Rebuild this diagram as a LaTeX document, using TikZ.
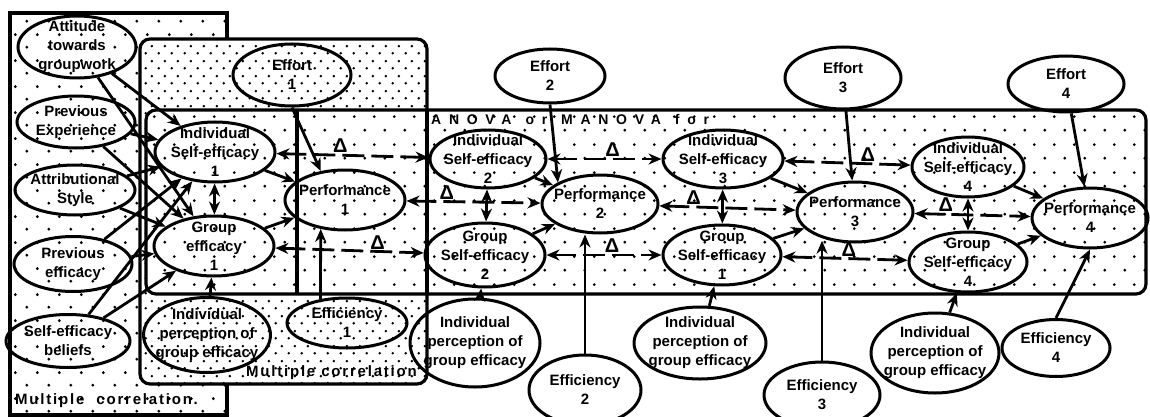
\documentclass[tikz,border=0pt]{standalone}
\usepackage{fontspec}
\setmainfont{Liberation Sans}
\usepackage{tikz}
\usetikzlibrary{arrows.meta,positioning,calc,shapes.geometric,patterns.meta}
\tikzdeclarepattern{name=adots,type=uncolored,
  bounding box={(0pt,0pt) and (22pt,26pt)},tile size={(22pt,26pt)},
  code={\fill (5pt,6pt) circle[radius=1.6pt];\fill (16pt,19pt) circle[radius=1.6pt];}}
\tikzdeclarepattern{name=bdots,type=uncolored,
  bounding box={(0pt,0pt) and (13pt,15pt)},tile size={(13pt,15pt)},
  code={\fill (3pt,4pt) circle[radius=1.5pt];\fill (9.5pt,11.5pt) circle[radius=1.5pt];}}
\tikzdeclarepattern{name=cdots,type=uncolored,
  bounding box={(0pt,0pt) and (20pt,28pt)},tile size={(20pt,28pt)},
  code={\fill (5pt,7pt) circle[radius=1.6pt];\fill (15pt,21pt) circle[radius=1.6pt];}}

\begin{document}
\begin{tikzpicture}[x=1pt,y=-1pt,
  ov/.style 2 args={ellipse,draw,line width=3pt,minimum width=#1pt,minimum height=#2pt,
              inner sep=-40pt,align=center,font=\fontsize{15}{19}\selectfont\bfseries},
  frame/.style={line width=3.2pt},
  boxa/.style={frame,preaction={fill=white},pattern=adots,pattern color=black},
  boxb/.style={frame,rounded corners=10pt,preaction={fill=white},pattern=bdots,pattern color=black},
  boxc/.style={frame,rounded corners=10pt,preaction={fill=white},pattern=cdots,pattern color=black},
  boxlbl/.style={font=\fontsize{15}{17}\selectfont\bfseries\addfontfeature{LetterSpace=12},inner sep=1pt},
  ar/.style={-{Stealth[length=13pt,width=11pt]},line width=2.8pt},
  dual/.style={{Stealth[length=13pt,width=11pt]}-{Stealth[length=13pt,width=11pt]},line width=2.8pt},
  dl/.style={dual,dash pattern=on 22pt off 7pt},
  dlt/.style={font=\fontsize{20}{20}\selectfont\bfseries,inner sep=1pt,above}]
\useasboundingbox (0,0) rectangle (1150,417);
% analysis frames
\draw[boxa] (10,13) rectangle (227,415);
\draw[boxb] (140,39) rectangle (427,384);
\draw[boxc] (146,110) rectangle (1146,294);
\draw[frame] (297,110) -- (297,294);
\draw[frame] (427,110) -- (427,294);
\node[boxlbl,anchor=west] (mca) at (14,401) {Multiple\ \ correlation.};
\node[boxlbl,anchor=east] (mcb) at (418,373) {Multiple correlation};
\node[boxlbl,anchor=west,font=\fontsize{14}{16}\selectfont\bfseries\addfontfeature{LetterSpace=55}] (anova) at (430,119) {ANOVA\quad or\quad MANOVA\quad for};
% antecedents
\node[ov={118}{62}] (att) at (77,47) {Attitude\\towards\\groupwork};
\node[ov={118}{52}] (prevexp) at (76,122) {Previous\\Experience};
\node[ov={120}{50}] (attr) at (75,190) {Attributional\\Style};
\node[ov={118}{55}] (prevef) at (73,264) {Previous\\efficacy};
\node[ov={124}{53}] (selfbel) at (68,341) {Self-efficacy\\beliefs};
% stage 1
\node[ov={118}{62}] (eff1) at (292,75) {Effort\\1};
\node[ov={120}{60}] (is1) at (215,152) {Individual\\Self-efficacy\\1};
\node[ov={120}{60}] (ge1) at (214,246) {Group\\efficacy\\1};
\node[ov={120}{60}] (perf1) at (345,200) {Performance\\1};
\node[ov={127}{75}] (ipge1) at (207,335) {Individual\\perception of\\group efficacy};
\node[ov={120}{50}] (effi1) at (347,323) {Efficiency\\1};
% stage 2
\node[ov={110}{54}] (eff2) at (550,76) {Effort\\2};
\node[ov={116}{58}] (is2) at (488,159) {Individual\\Self-efficacy\\2};
\node[ov={120}{64}] (ge2) at (485,255) {Group\\Self-efficacy\\2};
\node[ov={116}{58}] (perf2) at (600,204) {Performance\\2};
\node[ov={130}{88}] (ipge2) at (475,343) {Individual\\perception of\\group efficacy};
\node[ov={112}{70}] (effi2) at (585,390) {Efficiency\\2};
% stage 3
\node[ov={116}{62}] (eff3) at (843,78) {Effort\\3};
\node[ov={120}{58}] (is3) at (723,159) {Individual\\Self-efficacy\\3};
\node[ov={118}{60}] (ge3) at (722,255) {Group\\Self-efficacy\\1};
\node[ov={116}{60}] (perf3) at (855,212) {Performance\\3};
\node[ov={132}{72}] (ipge3) at (700,343) {Individual\\perception of\\group efficacy};
\node[ov={116}{66}] (effi3) at (822,395) {Efficiency\\3};
% stage 4
\node[ov={116}{56}] (eff4) at (1066,84) {Effort\\4};
\node[ov={112}{60}] (is4) at (968,167) {Individual\\Self-efficacy\\4};
\node[ov={118}{60}] (ge4) at (968,262) {Group\\Self-efficacy\\4};
\node[ov={116}{60}] (perf4) at (1090,218) {Performance\\4};
\node[ov={128}{80}] (ipge4) at (935,353) {Individual\\perception of\\group efficacy};
\node[ov={108}{57}] (effi4) at (1056,348) {Efficiency\\4};
% antecedents into stage 1
\draw[ar] (att) -- (is1);
\draw[ar] (att) -- (ge1);
\draw[ar] (prevexp) -- (is1);
\draw[ar] (prevexp) -- (ge1);
\draw[ar] (attr) -- (is1);
\draw[ar] (attr) -- (ge1);
\draw[ar] (prevef) -- (is1);
\draw[ar] (prevef) -- (ge1);
\draw[ar] (selfbel) -- (is1);
\draw[ar] (selfbel) -- (ge1);
% within stages
\draw[dual] (is1) -- (ge1);
\draw[ar] (is1) -- (perf1);
\draw[ar] (ge1) -- (perf1);
\draw[ar] (eff1.south) -- (perf1.130);
\draw[ar] (effi1.138) -- (perf1.230);
\draw[ar] (ipge1) -- (ge1);
\draw[dual] (is2) -- (ge2);
\draw[ar] (is2) -- (perf2);
\draw[ar] (ge2) -- (perf2);
\draw[ar] (eff2.south) -- (perf2.north west);
\draw[ar] (effi2.north) -- (effi2.north |- perf2.south);
\draw[ar] (ipge2) -- (ge2);
\draw[dual] (is3) -- (ge3);
\draw[ar] (is3) -- (perf3);
\draw[ar] (ge3) -- (perf3);
\draw[ar] (eff3) -- (perf3);
\draw[ar] (effi3.north) -- (effi3.north |- perf3.230);
\draw[ar] (ipge3) -- (ge3);
\draw[dual] (is4) -- (ge4);
\draw[ar] (is4) -- (perf4);
\draw[ar] (ge4) -- (perf4);
\draw[ar] (eff4) -- (perf4);
\draw[ar] (effi4.north) -- (perf4.south);
\draw[ar] (ipge4) -- (ge4);
% changes between stages
\draw[dl] (is1) -- node[dlt,pos=.42]{Δ} (is2);
\draw[dl] (ge1) -- node[dlt,pos=.69]{Δ} (ge2);
\draw[dl] (perf1) -- node[dlt,pos=.30]{Δ} (perf2);
\draw[dl] (is2) -- node[dlt,pos=.57]{Δ} (is3);
\draw[dl] (ge2) -- node[dlt,pos=.57]{Δ} (ge3);
\draw[dl] (perf2) -- node[dlt,pos=.25]{Δ} (perf3);
\draw[dl] (is3) -- node[dlt,pos=.66]{Δ} (is4);
\draw[dl] (ge3) -- node[dlt,pos=.53]{Δ} (ge4);
\draw[dl] (perf3) -- node[dlt,pos=.27]{Δ} (perf4);
\end{tikzpicture}
\end{document}
